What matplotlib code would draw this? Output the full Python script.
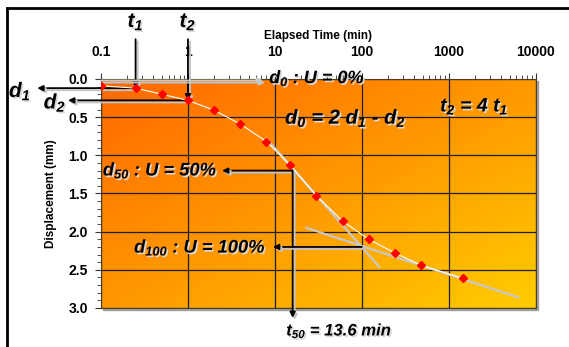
import matplotlib
matplotlib.use('Agg')
import matplotlib.pyplot as plt
import matplotlib.patheffects as pe
from matplotlib.colors import LinearSegmentedColormap
from matplotlib.lines import Line2D
from matplotlib.patches import Rectangle
from matplotlib.ticker import FixedLocator, LogLocator, MultipleLocator, NullFormatter
import numpy as np

plt.rcParams['font.family'] = ['Liberation Sans', 'DejaVu Sans']
plt.rcParams['mathtext.fontset'] = 'custom'
plt.rcParams['mathtext.it'] = 'Liberation Sans:italic:bold'
plt.rcParams['mathtext.rm'] = 'Liberation Sans:italic:bold'

# readings: elapsed time (min) vs displacement (mm)
time_min = [0.1, 0.25, 0.5, 1, 2, 4, 8, 15, 30, 60, 120, 240, 480, 1440]
disp_mm = [0.09, 0.12, 0.20, 0.28, 0.41, 0.59, 0.82, 1.13, 1.53, 1.86, 2.10, 2.28, 2.44, 2.61]

# construction lines
tangent_t = [8, 158]
tangent_d = [0.78, 2.46]
secondary_t = [23, 6300]
secondary_d = [1.95, 2.86]

t1, d1 = 0.25, 0.12
t2, d2 = 1.0, 0.28
d0 = 0.02
t50, d50 = 16, 1.20
t100, d100 = 100, 2.20

xticks = [0.1, 1, 10, 100, 1000, 10000]
xtick_labels = ['0.1', '1', '10', '100', '1000', '10000']
yticks = [0.0, 0.5, 1.0, 1.5, 2.0, 2.5, 3.0]

fig = plt.figure(figsize=(5.69, 3.47), dpi=100)
rect = [0.1775, 0.1124, 0.764, 0.66]

# drop shadow of the plot area
fig.add_artist(Rectangle((rect[0] + 0.004, rect[1] - 0.007), rect[2], rect[3],
                         transform=fig.transFigure, color='#a0a0a0', zorder=0))

# gradient background in its own axes
bg = fig.add_axes(rect, zorder=0.5)
yy, xx = np.mgrid[0:1:200j, 0:1:200j]
grad = (xx + yy) / 2
cmap = LinearSegmentedColormap.from_list('og', ['#ff6800', '#ff9800', '#ffcc00'])
bg.imshow(grad, cmap=cmap, extent=[0, 1, 0, 1], aspect='auto', origin='upper')
bg.axis('off')

ax = fig.add_axes(rect, zorder=1)
ax.set_facecolor('none')
ax.set_xscale('log')
ax.set_xlim(0.1, 10000)
ax.set_ylim(3, 0)

ax.xaxis.tick_top()
ax.xaxis.set_label_position('top')
ax.xaxis.set_major_locator(FixedLocator(xticks))
ax.set_xticklabels(xtick_labels)
ax.xaxis.set_minor_locator(LogLocator(base=10, subs=np.arange(2, 10)))
ax.xaxis.set_minor_formatter(NullFormatter())
ax.set_yticks(yticks)
ax.set_yticklabels([f'{v:.1f}' for v in yticks])
ax.yaxis.set_minor_locator(MultipleLocator(0.1))
ax.tick_params(which='both', direction='out', labelsize=10, color='#333333')
ax.tick_params(which='major', length=4.5)
ax.tick_params(which='minor', length=3)
ax.tick_params(axis='x', which='major', pad=10)
ax.tick_params(axis='y', which='major', pad=5)
for lab in ax.get_xticklabels() + ax.get_yticklabels():
    lab.set_fontweight('bold')
ax.set_xlabel('Elapsed Time (min)', fontsize=8.5, fontweight='bold', labelpad=4)
ax.set_ylabel('Displacement (mm)', fontsize=8.5, fontweight='bold', labelpad=8)
ax.grid(True, which='major', color='#1e1e1e', lw=0.9)
for s in ax.spines.values():
    s.set_color('#4a4020')

# construction lines
ax.plot(tangent_t, tangent_d, color='#c8c8c8', lw=1.6, zorder=3)
ax.plot(secondary_t, secondary_d, color='#c8c8c8', lw=1.6, zorder=3)
ax.plot(time_min, disp_mm, color='white', lw=0.8, zorder=4)
ax.plot(time_min, disp_mm, ls='none', marker='D', ms=3.6, color='red', zorder=5)

shadow = [pe.SimpleLineShadow(offset=(1.5, -1.5), shadow_color='#c4c4c4', alpha=1), pe.Normal()]


def arrow(xy, xytext, color='black', coords='data'):
    ax.annotate('', xy=xy, xytext=xytext, xycoords=coords, textcoords=coords,
                annotation_clip=False,
                arrowprops=dict(arrowstyle='-|>', color=color, lw=1.3,
                                mutation_scale=8, shrinkA=0, shrinkB=0,
                                path_effects=shadow))


arrow((t1, d1), (t1, -0.52))
arrow((0.0185, d1), (t1, d1))
arrow((t2, d2), (t2, -0.52))
arrow((0.0418, d2), (t2, d2))
arrow((7.3, d0), (0.1, d0), color='#c8c8c8')
arrow((2.47, d50), (t50, d50))
arrow((t50, 3.13), (t50, d50))
arrow((9.5, d100), (t100, d100))

tshadow = [pe.withSimplePatchShadow(offset=(1.2, -1.2), shadow_rgbFace='#d8d8d8', alpha=1)]
tkw = dict(fontweight='bold', style='italic', path_effects=tshadow, zorder=6)

ax.text(t1, -0.75, '$t_1$', fontsize=15, ha='center', va='center', **tkw)
ax.text(t2, -0.75, '$t_2$', fontsize=15, ha='center', va='center', **tkw)
ax.text(0.0117, 0.16, '$d_1$', fontsize=15, ha='center', va='center', **tkw)
ax.text(0.0296, 0.31, '$d_2$', fontsize=15, ha='center', va='center', **tkw)
ax.text(8.6, -0.01, '$d_0$ : U = 0%', fontsize=13, ha='left', va='center', **tkw)
ax.text(13.1, 0.51, '$d_0$ = 2 $d_1$ - $d_2$', fontsize=14.5, ha='left', va='center', **tkw)
ax.text(795, 0.36, '$t_2$ = 4 $t_1$', fontsize=14, ha='left', va='center', **tkw)
ax.text(0.105, 1.20, '$d_{50}$ : U = 50%', fontsize=13.2, ha='left', va='center', **tkw)
ax.text(0.24, 2.21, '$d_{100}$ : U = 100%', fontsize=13.2, ha='left', va='center', **tkw)
ax.text(13.5, 3.30, '$t_{50}$ = 13.6 min', fontsize=12, ha='left', va='center', **tkw)

# outer frame, cut at right and bottom
fig.add_artist(Line2D([7 / 569, 1.0], [1 - 8 / 347, 1 - 8 / 347], transform=fig.transFigure,
                      color='black', lw=2))
fig.add_artist(Line2D([7 / 569, 7 / 569], [0.0, 1 - 8 / 347], transform=fig.transFigure,
                      color='black', lw=2))

fig.savefig('out.png', dpi=100)
